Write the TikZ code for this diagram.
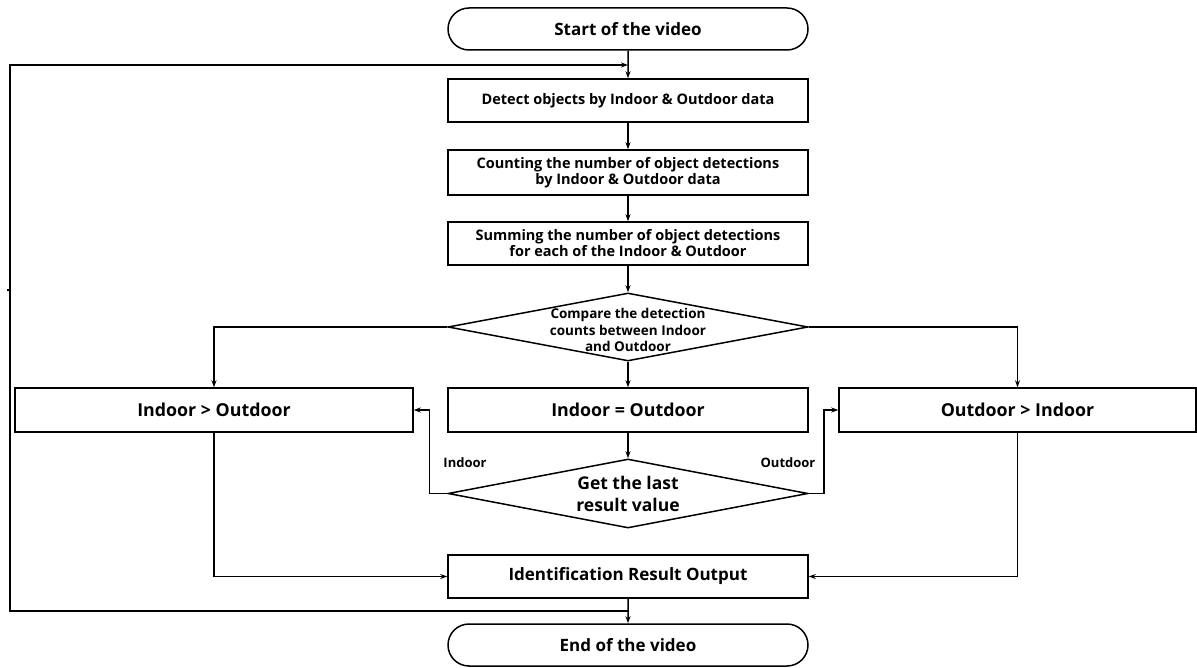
\documentclass[tikz,border=0pt]{standalone}
\usepackage{fontspec}
\setmainfont{Open Sans}
\usetikzlibrary{shapes.geometric,shapes.misc,arrows.meta}
\begin{document}
\begin{tikzpicture}[x=1pt,y=-1pt,
  every path/.style={line width=1.5pt},
  arr/.style={-{Stealth[length=7pt,width=5pt]}},
  procbox/.style={draw,rectangle,minimum width=360pt,inner sep=0pt,align=center,font=\bfseries\fontsize{14.5}{16}\selectfont},
  bigbox/.style={draw,rectangle,inner sep=0pt,align=center,font=\bfseries\fontsize{17.8}{20}\selectfont},
  term/.style={draw,rounded rectangle,minimum width=360pt,minimum height=42pt,inner sep=0pt,font=\bfseries\fontsize{17}{20}\selectfont},
  decis/.style={draw,diamond,inner sep=0pt},
  dlabel/.style={align=center,inner sep=0pt},
  smalllab/.style={font=\bfseries\fontsize{13}{15}\selectfont,inner sep=0pt}
]
\useasboundingbox (0,0) rectangle (1197,668);
% nodes
\node[term] (start) at (628,29) {Start of the video};
\node[procbox,minimum height=43pt] (detect) at (628,100.5) {Detect objects by Indoor \& Outdoor data};
\node[procbox,minimum height=45pt] (count) at (628,172.5) {Counting the number of object detections\\by Indoor \& Outdoor data};
\node[procbox,minimum height=43pt] (sum) at (628,243.5) {Summing the number of object detections\\for each of the Indoor \& Outdoor};
\node[decis,minimum width=360pt,minimum height=68pt] (cmp) at (628,327) {};
\node[dlabel,font=\bfseries\fontsize{13.5}{16.5}\selectfont] (cmpt) at (628,330) {Compare the detection\\counts between Indoor\\and Outdoor};
\node[bigbox,minimum width=398pt,minimum height=44pt] (gt) at (214,410) {Indoor \textgreater{} Outdoor};
\node[bigbox,minimum width=360pt,minimum height=44pt] (eq) at (628,410) {Indoor = Outdoor};
\node[bigbox,minimum width=357pt,minimum height=44pt] (lt) at (1017.5,410) {Outdoor \textgreater{} Indoor};
\node[decis,minimum width=360pt,minimum height=69pt] (last) at (628,493.5) {};
\node[dlabel,font=\bfseries\fontsize{17.5}{22}\selectfont] (lastt) at (628,494) {Get the last\\result value};
\node[bigbox,minimum width=360pt,minimum height=43pt,font=\bfseries\fontsize{17}{20}\selectfont] (ident) at (628,576.5) {Identification Result Output};
\node[term] (end) at (628,645) {End of the video};
\node[smalllab] (lin) at (465,463) {Indoor};
\node[smalllab] (lout) at (788,463) {Outdoor};
% loop coordinates
\coordinate (j1) at (628,65);
\coordinate (j2) at (628,611);
\coordinate (lc) at (10,611);
\coordinate (lt0) at (10,65);
\coordinate (tk) at (7,290);
% connectors
\draw[arr] (start) -- (detect);
\draw[arr] (detect) -- (count);
\draw[arr] (count) -- (sum);
\draw[arr] (sum) -- (cmp);
\draw[arr] (cmp.west) -| (gt.north);
\draw[arr] (cmp.east) -| (lt.north);
\draw[arr] (cmp.south) -- (eq.north);
\draw[arr] (eq) -- (last.north);
\draw[arr] (last.west) -- ++(-18,0) |- (gt.east);
\draw[arr] (last.east) -- ++(15,0) |- (lt.west);
\draw[arr] (gt.south) |- (ident.west);
\draw[arr] (lt.south) |- (ident.east);
\draw[arr] (ident) -- (end);
\draw[arr] (j2) -- (lc) -- (lt0) -- (j1);
\draw (tk) -- ++(3,0);
\end{tikzpicture}
\end{document}
